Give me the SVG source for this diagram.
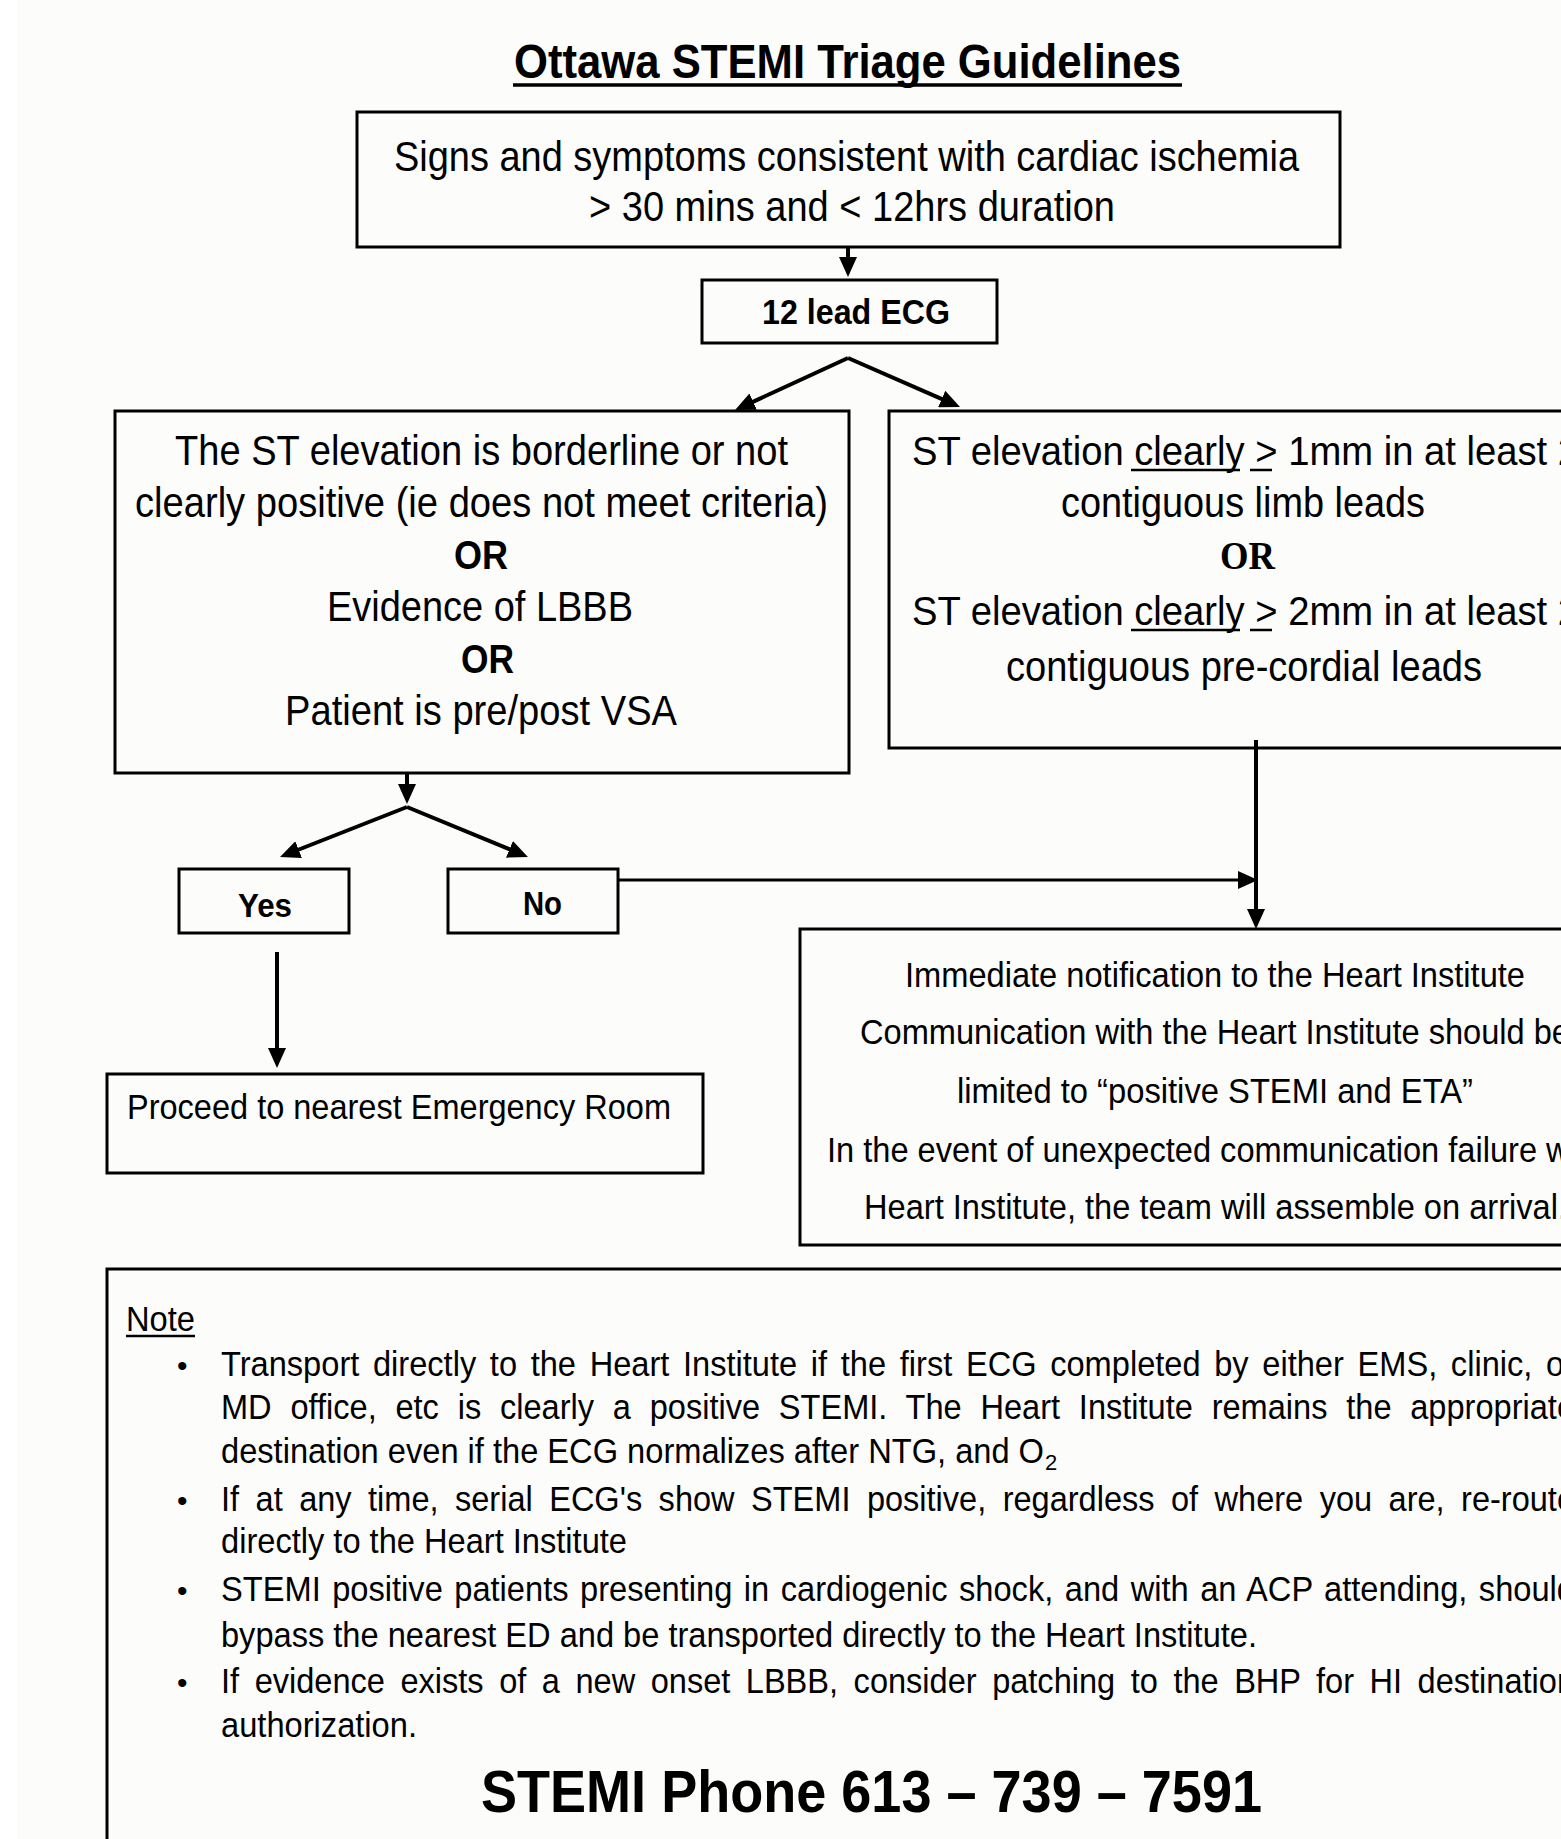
<svg xmlns="http://www.w3.org/2000/svg" width="1561" height="1839" viewBox="0 0 1561 1839">
<defs>
<style>
.t{font-family:"Liberation Sans",Arial,Helvetica,sans-serif;fill:#000}
.b{font-weight:bold}
.serif{font-family:"Liberation Serif","Times New Roman",serif;font-weight:bold;fill:#000}
.box{fill:none;stroke:#000;stroke-width:3}
.conn{fill:none;stroke:#000;stroke-width:4}
.thin{stroke-width:3}
.ul{stroke:#000;stroke-width:2.5}
</style>
<marker id="ah" viewBox="0 0 20 18" refX="1" refY="9" markerWidth="20" markerHeight="18" markerUnits="userSpaceOnUse" orient="auto">
<path d="M0,0 L20,9 L0,18 z" fill="#000"/>
</marker>
</defs>
<rect x="0" y="0" width="1561" height="1839" fill="#ffffff"/>
<rect x="17" y="0" width="1544" height="1839" fill="#fcfcfa"/>

<g id="title">
<text class="t b" x="514" y="78" font-size="49" textLength="667" lengthAdjust="spacingAndGlyphs">Ottawa STEMI Triage Guidelines</text>
<line x1="513" y1="85" x2="1182" y2="85" stroke="#000" stroke-width="3.5"/>
</g>

<g id="symptoms">
<rect class="box" x="357" y="112" width="983" height="135"/>
<text class="t" x="394" y="171" font-size="42" textLength="905" lengthAdjust="spacingAndGlyphs">Signs and symptoms consistent with cardiac ischemia</text>
<text class="t" x="589" y="221" font-size="42" textLength="526" lengthAdjust="spacingAndGlyphs">&gt; 30 mins and &lt; 12hrs duration</text>
</g>

<g id="ecg">
<rect class="box" x="702" y="280" width="295" height="63"/>
<text class="t b" x="762" y="324" font-size="35" textLength="188" lengthAdjust="spacingAndGlyphs">12 lead ECG</text>
</g>

<g id="borderline">
<rect class="box" x="115" y="411" width="734" height="362"/>
<text class="t" x="175" y="465" font-size="42" textLength="613" lengthAdjust="spacingAndGlyphs">The ST elevation is borderline or not</text>
<text class="t" x="135" y="517" font-size="42" textLength="693" lengthAdjust="spacingAndGlyphs">clearly positive (ie does not meet criteria)</text>
<text class="t b" x="454" y="569" font-size="40" textLength="54" lengthAdjust="spacingAndGlyphs">OR</text>
<text class="t" x="327" y="621" font-size="42" textLength="306" lengthAdjust="spacingAndGlyphs">Evidence of LBBB</text>
<text class="t b" x="461" y="673" font-size="40" textLength="53" lengthAdjust="spacingAndGlyphs">OR</text>
<text class="t" x="285" y="725" font-size="42" textLength="392" lengthAdjust="spacingAndGlyphs">Patient is pre/post VSA</text>
</g>

<g id="clearly">
<rect class="box" x="889" y="411" width="711" height="337"/>
<text class="t" x="912" y="465" font-size="41" textLength="667" lengthAdjust="spacingAndGlyphs">ST elevation clearly &gt; 1mm in at least 2</text>
<line class="ul" x1="1131" y1="470" x2="1240" y2="470"/>
<line class="ul" x1="1250" y1="470" x2="1272" y2="470"/>
<text class="t" x="1061" y="517" font-size="42" textLength="364" lengthAdjust="spacingAndGlyphs">contiguous limb leads</text>
<text class="serif" x="1220" y="569" font-size="40" textLength="55" lengthAdjust="spacingAndGlyphs">OR</text>
<text class="t" x="912" y="625" font-size="41" textLength="667" lengthAdjust="spacingAndGlyphs">ST elevation clearly &gt; 2mm in at least 2</text>
<line class="ul" x1="1131" y1="630" x2="1240" y2="630"/>
<line class="ul" x1="1250" y1="630" x2="1272" y2="630"/>
<text class="t" x="1006" y="681" font-size="42" textLength="476" lengthAdjust="spacingAndGlyphs">contiguous pre-cordial leads</text>
</g>

<g id="yes">
<rect class="box" x="179" y="869" width="170" height="64"/>
<text class="t b" x="238" y="917" font-size="33" textLength="54" lengthAdjust="spacingAndGlyphs">Yes</text>
</g>

<g id="no">
<rect class="box" x="448" y="869" width="170" height="64"/>
<text class="t b" x="523" y="915" font-size="33" textLength="39" lengthAdjust="spacingAndGlyphs">No</text>
</g>

<g id="emergency">
<rect class="box" x="107" y="1074" width="596" height="99"/>
<text class="t" x="127" y="1119" font-size="35" fill="#222" textLength="544" lengthAdjust="spacingAndGlyphs">Proceed to nearest Emergency Room</text>
</g>

<g id="heart">
<rect class="box" x="800" y="929" width="830" height="316"/>
<text class="t" x="905" y="987" font-size="35.5" textLength="620" lengthAdjust="spacingAndGlyphs">Immediate notification to the Heart Institute</text>
<text class="t" x="860" y="1044" font-size="35.5" textLength="710" lengthAdjust="spacingAndGlyphs">Communication with the Heart Institute should be</text>
<text class="t" x="957" y="1103" font-size="35.5" textLength="516" lengthAdjust="spacingAndGlyphs">limited to “positive STEMI and ETA”</text>
<text class="t" x="827" y="1162" font-size="35.5" textLength="777" lengthAdjust="spacingAndGlyphs">In the event of unexpected communication failure with</text>
<text class="t" x="864" y="1219" font-size="35.5" textLength="703" lengthAdjust="spacingAndGlyphs">Heart Institute, the team will assemble on arrival.</text>
</g>

<g id="note">
<rect class="box" x="107" y="1269" width="1482" height="600"/>
<text class="t" x="126" y="1331" font-size="35.5" textLength="69" lengthAdjust="spacingAndGlyphs">Note</text>
<line class="ul" x1="126" y1="1336" x2="195" y2="1336"/>
<text class="t" x="177" y="1376" font-size="30">•</text>
<text class="t" x="221" y="1376" font-size="35.5" word-spacing="5" textLength="1354" lengthAdjust="spacingAndGlyphs">Transport directly to the Heart Institute if the first ECG completed by either EMS, clinic, or</text>
<text class="t" x="221" y="1419" font-size="35.5" word-spacing="10.6" textLength="1354" lengthAdjust="spacingAndGlyphs">MD office, etc is clearly a positive STEMI. The Heart Institute remains the appropriate</text>
<text class="t" x="221" y="1463" font-size="35.5" textLength="823" lengthAdjust="spacingAndGlyphs">destination even if the ECG normalizes after NTG, and O</text>
<text class="t" x="1045" y="1470" font-size="22">2</text>
<text class="t" x="177" y="1511" font-size="30">•</text>
<text class="t" x="221" y="1511" font-size="35.5" word-spacing="8.1" textLength="1354" lengthAdjust="spacingAndGlyphs">If at any time, serial ECG's show STEMI positive, regardless of where you are, re-route</text>
<text class="t" x="221" y="1553" font-size="35.5" textLength="406" lengthAdjust="spacingAndGlyphs">directly to the Heart Institute</text>
<text class="t" x="177" y="1601" font-size="30">•</text>
<text class="t" x="221" y="1601" font-size="35.5" word-spacing="2.6" textLength="1354" lengthAdjust="spacingAndGlyphs">STEMI positive patients presenting in cardiogenic shock, and with an ACP attending, should</text>
<text class="t" x="221" y="1647" font-size="35.5" textLength="1036" lengthAdjust="spacingAndGlyphs">bypass the nearest ED and be transported directly to the Heart Institute.</text>
<text class="t" x="177" y="1693" font-size="30">•</text>
<text class="t" x="221" y="1693" font-size="35.5" word-spacing="7.1" textLength="1354" lengthAdjust="spacingAndGlyphs">If evidence exists of a new onset LBBB, consider patching to the BHP for HI destination</text>
<text class="t" x="221" y="1737" font-size="35.5" textLength="196" lengthAdjust="spacingAndGlyphs">authorization.</text>
<text class="t b" x="481" y="1812" font-size="59" textLength="781" lengthAdjust="spacingAndGlyphs">STEMI Phone 613 – 739 – 7591</text>
</g>

<g id="connectors">
<path class="conn" d="M848,247 L848,258" marker-end="url(#ah)"/>
<path class="conn" d="M848,358 L752.3,402.1" marker-end="url(#ah)"/>
<path class="conn" d="M848,358 L942.6,399.4" marker-end="url(#ah)"/>
<path class="conn" d="M407,773 L407,785" marker-end="url(#ah)"/>
<path class="conn" d="M407,807 L297.7,850" marker-end="url(#ah)"/>
<path class="conn" d="M407,807 L510.4,849.7" marker-end="url(#ah)"/>
<path class="conn" d="M277,952 L277,1049" marker-end="url(#ah)"/>
<path class="conn thin" d="M618,880 L1239,880" marker-end="url(#ah)"/>
<path class="conn" d="M1256,740 L1256,910" marker-end="url(#ah)"/>
</g>
</svg>
